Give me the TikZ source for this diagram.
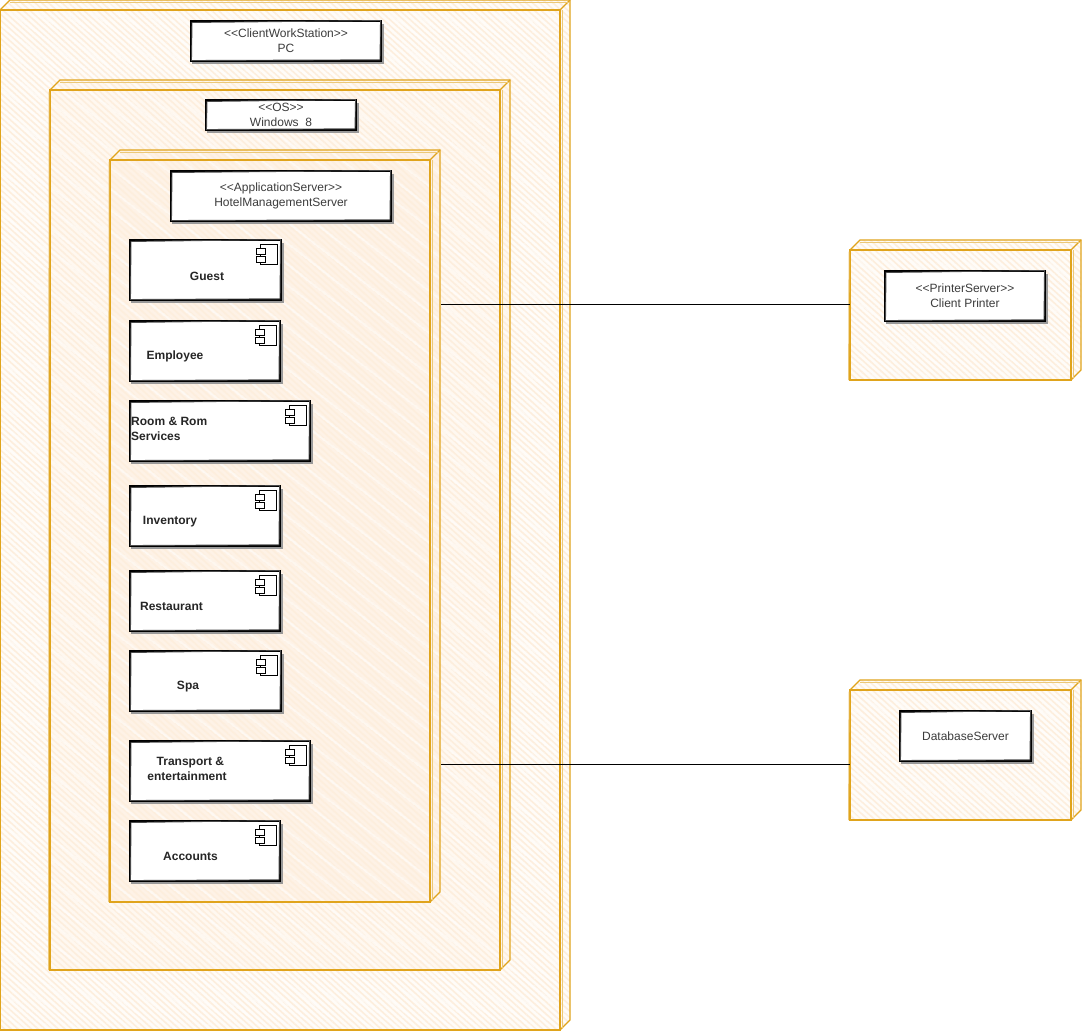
\documentclass[tikz,border=0pt]{standalone}
\usepackage{fontspec}
\setmainfont[Ligatures=NoCommon]{Liberation Sans}
\usetikzlibrary{patterns.meta,calc}
\definecolor{cubeline}{HTML}{E0A41C}
\definecolor{hatchA}{HTML}{FDEEDD}
\definecolor{baseA}{HTML}{FFFCF8}
\definecolor{baseB}{HTML}{FFF8F0}
\definecolor{baseC}{HTML}{FEF2E6}
\definecolor{labelgray}{HTML}{3C3C3C}
\tikzset{
  cubeedge/.style={draw=cubeline,line width=1.1pt,line join=miter},
  cubesketch/.style={draw=cubeline!60,line width=.8pt},
  hatched/.style={pattern={Lines[angle=-42,distance=4.5pt,line width=1.6pt]},pattern color=hatchA},
  streaked/.style={pattern={Lines[angle=-38,distance=17pt,line width=2.2pt]},pattern color=white,opacity=.55},
  cubeface/.style={inner sep=0pt,outer sep=0pt,anchor=north west},
  boxface/.style={fill=white,inner sep=0pt,outer sep=0pt,anchor=north west,align=center,
    font=\fontsize{12}{15}\selectfont,text=labelgray},
  boxstroke/.style={draw=black,line width=1.2pt},
  boxsketch/.style={draw=black!70,line width=.9pt},
  boxshadow/.style={draw=black!40,line width=1.3pt},
  comptext/.style={font=\bfseries\fontsize{12}{15}\selectfont,text=black!85,inner sep=0pt,align=center},
  compicon/.style={draw=black,line width=.8pt,fill=white},
  link/.style={draw=black,line width=.8pt}
}
% name, base colour, x0, y0, x1, y1 (front face); depth 10
\newcommand{\deploycube}[6]{%
  \fill[#2] (#3,#4) -- ++(10,-10) -- (#5+10,#4-10) -- (#5+10,#6-10) -- (#5,#6) -- (#3,#6) -- cycle;
  \path[hatched] (#3,#4) -- ++(10,-10) -- (#5+10,#4-10) -- (#5+10,#6-10) -- (#5,#6) -- (#3,#6) -- cycle;
  \path[streaked] (#3,#4) -- ++(10,-10) -- (#5+10,#4-10) -- (#5+10,#6-10) -- (#5,#6) -- (#3,#6) -- cycle;
  \node[cubeface,minimum width={(#5-#3)*1pt},minimum height={(#6-#4)*1pt}] (#1) at (#3,#4) {};
  \draw[cubeedge] (#1.north west) -- (#1.north east) -- (#1.south east) -- (#1.south west) -- cycle;
  \draw[cubeedge] (#1.north west) -- ++(10,-10) -- ($(#1.north east)+(10,-10)$) -- ($(#1.south east)+(10,-10)$) -- (#1.south east);
  \draw[cubeedge] (#1.north east) -- ++(10,-10);
  \draw[cubesketch] ($(#1.north west)+(-1,1.5)$) -- ($(#1.south west)+(-1.5,0)$);
  \draw[cubesketch] ($(#1.north west)+(10,-8)$) -- ($(#1.north east)+(9,-8)$);
  \draw[cubesketch] ($(#1.north east)+(2,0)$) -- ($(#1.south east)+(2,-1)$);
}
% name, x0, y0, x1, y1, text
\newcommand{\sketchbox}[6]{%
  \draw[boxshadow] (#2+2,#3+3) -- (#2+2,#5+2) -- (#4+2,#5+2) -- (#4+2,#3+3);
  \node[boxface,minimum width={(#4-#2)*1pt},minimum height={(#5-#3)*1pt}] (#1) at (#2,#3) {#6};
  \draw[boxstroke] (#1.north west) -- (#1.north east) -- (#1.south east) -- (#1.south west) -- cycle;
  \draw[boxsketch] ($(#1.north west)+(1,1.5)$) -- ($(#1.north east)+(-.5,-.5)$) -- ($(#1.south east)+(-1,-1.2)$) -- ($(#1.south west)+(.5,-.5)$) -- cycle;
}
% name, x0, y0, x1, y1
\newcommand{\compicon}[5]{%
  \sketchbox{#1}{#2}{#3}{#4}{#5}{}%
  \draw[compicon] ($(#1.north east)+(-21,4)$) rectangle ($(#1.north east)+(-4,24)$);
  \draw[compicon] ($(#1.north east)+(-25,8)$) rectangle ($(#1.north east)+(-16,14)$);
  \draw[compicon] ($(#1.north east)+(-25,16)$) rectangle ($(#1.north east)+(-16,22)$);
}
\newcommand{\gui}[1]{{<}{<}#1{>}{>}}
\begin{document}
\begin{tikzpicture}[x=1pt,y=-1pt]
\useasboundingbox (0,0) rectangle (1082,1031);
\fill[white] (0,0) rectangle (1082,1031);
\deploycube{pc}{baseA}{0}{10}{560}{1030}
\deploycube{os}{baseB}{50}{90}{500}{970}
\deploycube{app}{baseC}{110}{160}{430}{902}
\deploycube{prn}{baseA}{850}{250}{1071}{380}
\deploycube{dbs}{baseA}{850}{690}{1071}{820}

\sketchbox{pcbox}{191}{21}{381}{61}{\gui{ClientWorkStation}\\PC}
\sketchbox{osbox}{206}{100}{356}{130}{\gui{OS}\\Windows\ \ 8}
\sketchbox{appbox}{171}{171}{391}{221}{\gui{ApplicationServer}\\HotelManagementServer}
\sketchbox{prnbox}{885}{271}{1045}{321}{\gui{PrinterServer}\\Client Printer}
\sketchbox{dbbox}{900}{711}{1031}{761}{DatabaseServer}

\compicon{guest}{130}{240}{281}{300}
\compicon{employee}{130}{321}{280}{381}
\compicon{room}{130}{401}{310}{461}
\compicon{inventory}{130}{486}{280}{546}
\compicon{restaurant}{130}{571}{280}{631}
\compicon{spa}{130}{651}{281}{711}
\compicon{transport}{130}{741}{310}{801}
\compicon{accounts}{130}{821}{280}{881}

\node[comptext] (tguest) at (207,276) {Guest};
\node[comptext] (temployee) at (175,356.5) {Employee};
\node[comptext,anchor=west,align=left] (troom) at (131,429) {Room \& Rom\\Services};
\node[comptext] (tinventory) at (170,521.5) {Inventory};
\node[comptext] (trestaurant) at (171.5,606.5) {Restaurant};
\node[comptext] (tspa) at (188,686.5) {Spa};
\node[comptext] (ttransport) at (187,769) {\ \ Transport \&\\entertainment};
\node[comptext] (taccounts) at (190.5,856.5) {Accounts};

\coordinate (c1) at (441,304.5);
\coordinate (c2) at (441,764.5);
\draw[link] (c1) -- (c1 -| prn.west);
\draw[link] (c2) -- (c2 -| dbs.west);
\end{tikzpicture}
\end{document}
